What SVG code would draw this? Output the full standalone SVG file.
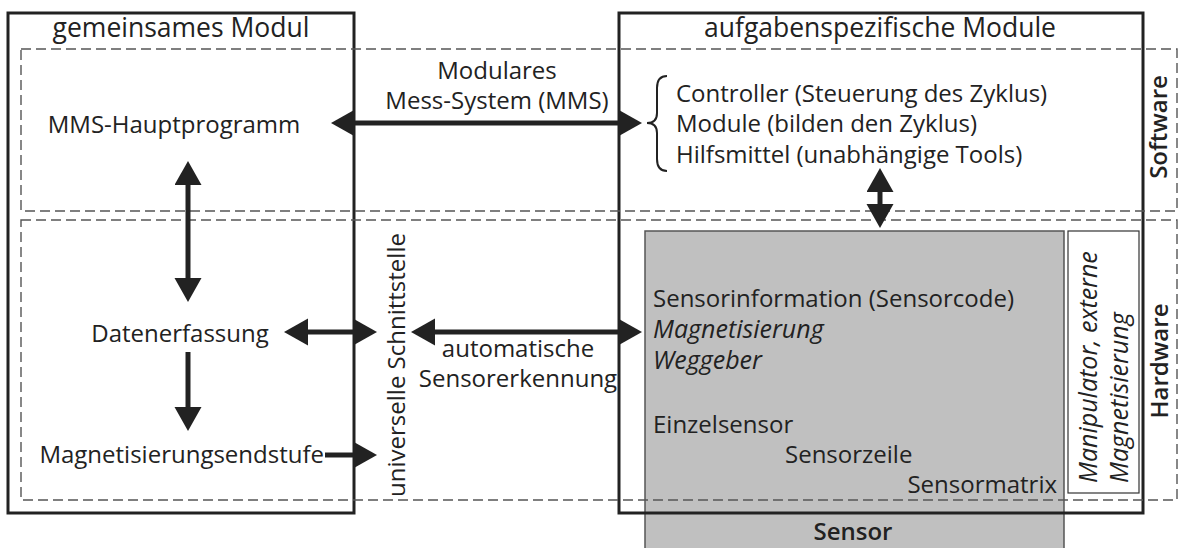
<svg xmlns="http://www.w3.org/2000/svg" width="1181" height="548" viewBox="0 0 1181 548">
<style>
text{font-family:"Open Sans","Noto Sans",sans-serif;font-size:24px;fill:#222}
.m{text-anchor:middle}
.e{text-anchor:end}
.i{font-style:italic;font-size:25px}
.b{font-weight:600}
.t{font-size:26.5px}
.box{fill:none;stroke:#222;stroke-width:3}
.dash{fill:none;stroke:#555;stroke-width:1.4;stroke-dasharray:10 5}
.arr{stroke:#222;stroke-width:5;fill:none;marker-end:url(#ah)}
.arr2{stroke:#222;stroke-width:5;fill:none;marker-start:url(#ah);marker-end:url(#ah)}
</style>
<defs>
<marker id="ah" markerUnits="userSpaceOnUse" markerWidth="26" markerHeight="28" refX="1" refY="13.5" orient="auto-start-reverse" viewBox="0 0 26 28">
<path d="M0,0 L24,13.5 L0,27 z" fill="#222"/>
</marker>
</defs>
<rect width="1181" height="548" fill="#fff"/>
<g id="sensor">
<rect x="645" y="231" width="419" height="330" fill="#c0c0c0" stroke="#555" stroke-width="1.5"/>
<text x="653" y="307">Sensorinformation (Sensorcode)</text>
<text x="653" y="338" class="i">Magnetisierung</text>
<text x="653" y="369" class="i">Weggeber</text>
<text x="653" y="433">Einzelsensor</text>
<text x="785" y="463">Sensorzeile</text>
<text x="1057" y="493" class="e">Sensormatrix</text>
<text x="853" y="540" class="m b">Sensor</text>
</g>
<g id="manipulator">
<rect x="1068" y="231" width="71" height="262" fill="#fff" stroke="#333" stroke-width="1.2"/>
<text transform="translate(1097,483) rotate(-90)" class="i">Manipulator, externe</text>
<text transform="translate(1128,483) rotate(-90)" class="i">Magnetisierung</text>
</g>
<g id="gemeinsames-modul">
<rect class="box" x="8" y="13" width="346" height="500"/>
<text x="181" y="37" class="m t">gemeinsames Modul</text>
</g>
<g id="aufgaben-module">
<rect class="box" x="619" y="13" width="524" height="500"/>
<text x="880" y="37" class="m t">aufgabenspezifische Module</text>
</g>
<g id="software-layer">
<rect class="dash" x="21" y="49" width="1156" height="162"/>
<text transform="translate(1167,127) rotate(-90)" class="m b">Software</text>
</g>
<g id="hardware-layer">
<rect class="dash" x="21" y="220" width="1156" height="280"/>
<text transform="translate(1168,361) rotate(-90)" class="m b">Hardware</text>
</g>
<g id="hauptprogramm"><text x="174" y="133" class="m">MMS-Hauptprogramm</text></g>
<g id="datenerfassung"><text x="180" y="342" class="m">Datenerfassung</text></g>
<g id="endstufe"><text x="324" y="463" class="e">Magnetisierungsendstufe</text></g>
<g id="schnittstelle"><text transform="translate(405,365) rotate(-90)" class="m">universelle Schnittstelle</text></g>
<g id="software-list">
<path d="M667,76 Q657,76 657,88 L657,113 Q657,123 647,123 Q657,123 657,133 L657,159 Q657,171 667,171" fill="none" stroke="#222" stroke-width="2"/>
<text x="676" y="102">Controller (Steuerung des Zyklus)</text>
<text x="676" y="132">Module (bilden den Zyklus)</text>
<text x="676" y="163">Hilfsmittel (unabhängige Tools)</text>
</g>
<g id="connectors">
<line class="arr2" x1="354" y1="123" x2="619" y2="123"/>
<text x="497" y="79" class="m">Modulares</text>
<text x="497" y="109" class="m">Mess-System (MMS)</text>
<line class="arr2" x1="188" y1="184" x2="188" y2="279"/>
<line class="arr" x1="188" y1="352" x2="188" y2="408"/>
<line class="arr2" x1="307" y1="332" x2="354" y2="332"/>
<line class="arr" x1="325" y1="455" x2="354" y2="455"/>
<line class="arr2" x1="434" y1="332" x2="619" y2="332"/>
<text x="518" y="357" class="m">automatische</text>
<text x="518" y="387" class="m">Sensorerkennung</text>
<line class="arr2" x1="880" y1="191" x2="880" y2="205"/>
</g>
</svg>
